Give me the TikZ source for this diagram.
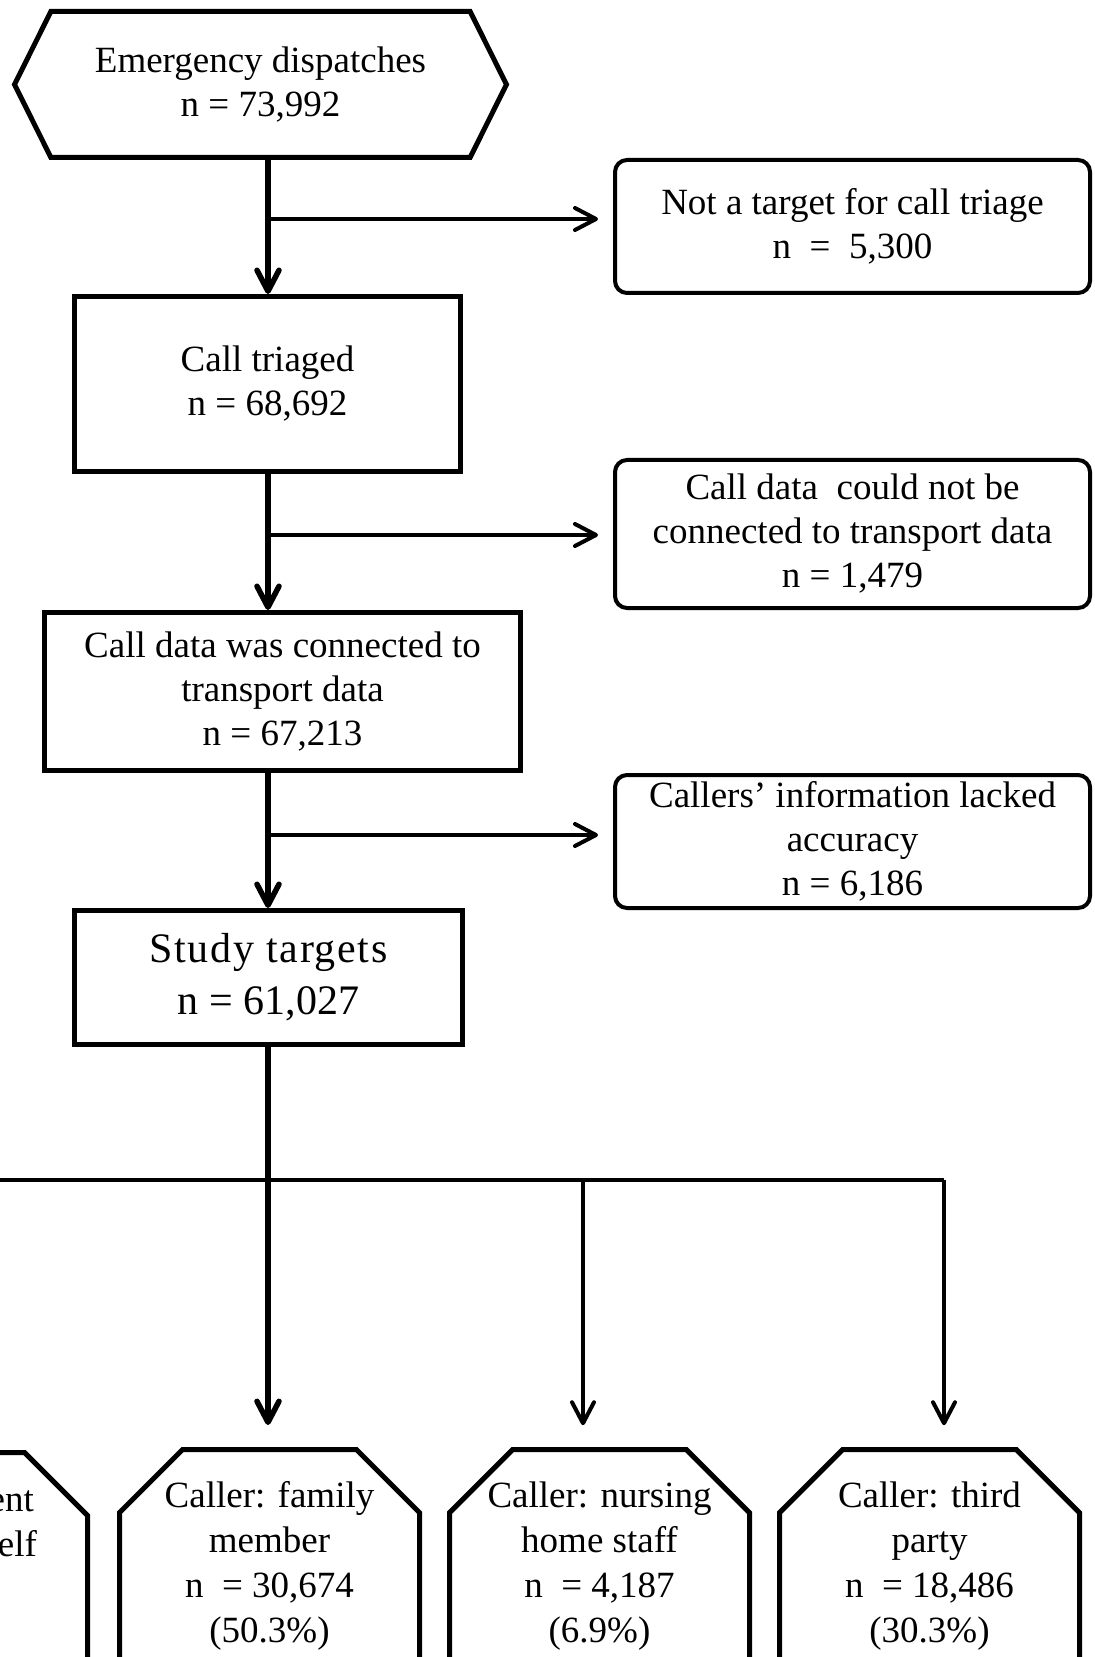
\documentclass[tikz,border=0pt]{standalone}
\usepackage{fontspec}
\setmainfont{Liberation Serif}
\usepackage{tikz}
\usetikzlibrary{positioning, shapes.misc, shapes.symbols, arrows.meta, calc}

\begin{document}
\begin{tikzpicture}[x=0.5pt, y=-0.5pt,
		>={Straight Barb[length=10.5pt, width=11pt, round]},
		txt/.style={align=center, inner sep=0pt, font=\fontsize{18.5}{22}\selectfont},
		hexbox/.style={txt, draw, line width=2.5pt, signal, signal to=west and east, signal pointer angle=127},
		mainbox/.style={txt, draw, line width=2.5pt},
		sidebox/.style={txt, draw, line width=2pt, rounded corners=6pt, minimum width=237.5pt},
		callerbox/.style={txt, draw, line width=2.5pt, chamfered rectangle, chamfered rectangle corners={north west, north east}, chamfered rectangle xsep=15.5pt, chamfered rectangle ysep=16pt, minimum width=150pt, minimum height=113.5pt, font=\fontsize{18.5}{22.5}\selectfont},
		flow/.style={line width=2.75pt},
		branch/.style={line width=2pt}]
				\useasboundingbox (0,0) rectangle (1095,1657);
				\clip (0,0) rectangle (1095,1657);
				
				\node [hexbox, minimum width=246pt, minimum height=73pt] (disp) at (260.5,84.5) {Emergency dispatches\\n = 73,992};
				\node [mainbox, minimum width=193pt, minimum height=87.5pt] (triage) at (267.5,384) {Call triaged\\n = 68,692};
				\node [mainbox, minimum width=238pt, minimum height=79pt] (linked) at (282.5,691.5) {Call data was connected to\\transport data\\n = 67,213};
				\node [mainbox, minimum width=194pt, minimum height=67pt, font=\fontsize{21}{26}\selectfont] (study) at (268.5,977.5) {{\addfontfeature{LetterSpace=4}Study targets}\\n = 61,027};
				
				\node [sidebox, minimum height=66.5pt] (excl1) at (852.5,226.5) {Not a target for call triage\\n\ \ =\ \ 5,300};
				\node [sidebox, minimum height=74pt] (excl2) at (852.5,534) {Call data\ \ could not be\\connected to transport data\\n = 1,479};
				\node [sidebox, minimum height=66.5pt] (excl3) at (852.5,841.5) {Callers’ information lacked\\accuracy\\n = 6,186};
				
				\node [callerbox, minimum width=160.5pt] (self) at (-73,1566) {Caller: patient\\him- or herself\\ \\ };
				\node [callerbox] (family) at (269.5,1566) {Caller: family\\member\\n\ \ = 30,674\\(50.3\%)};
				\node [callerbox] (nurse) at (599.5,1566) {Caller: nursing\\home staff\\n\ \ = 4,187\\(6.9\%)};
				\node [callerbox] (third) at (929.5,1566) {Caller: third\\party\\n\ \ = 18,486\\(30.3\%)};
				
				\coordinate (br1) at (268,219);
				\coordinate (br2) at (268,535);
				\coordinate (br3) at (268,835);
				\coordinate (j) at (268,1180);
				\coordinate (jl) at (-73,1180);
				\coordinate (jn) at (583,1180);
				\coordinate (jt) at (944,1180);
				
				\draw [flow, ->] (br1 |- disp.south) -- (br1 |- triage.north);
				\draw [flow, ->] (br1 |- triage.south) -- (br1 |- linked.north);
				\draw [flow, ->] (br1 |- linked.south) -- (br1 |- study.north);
				
				\draw [branch, ->, shorten >=7.5pt] (br1) -- (br1 -| excl1.west);
				\draw [branch, ->, shorten >=7.5pt] (br2) -- (br2 -| excl2.west);
				\draw [branch, ->, shorten >=7.5pt] (br3) -- (br3 -| excl3.west);
				
				\draw [flow] (j |- study.south) -- (j);
				\draw [branch] (jl) -- (jt);
				\draw [flow, ->, shorten >=11pt] (j) -- (j |- family.north);
				\foreach \c/\b in {jl/self, jn/nurse, jt/third}
				\draw [branch, ->, shorten >=11pt] (\c) -- (\c |- \b.north);
\end{tikzpicture}
\end{document}
